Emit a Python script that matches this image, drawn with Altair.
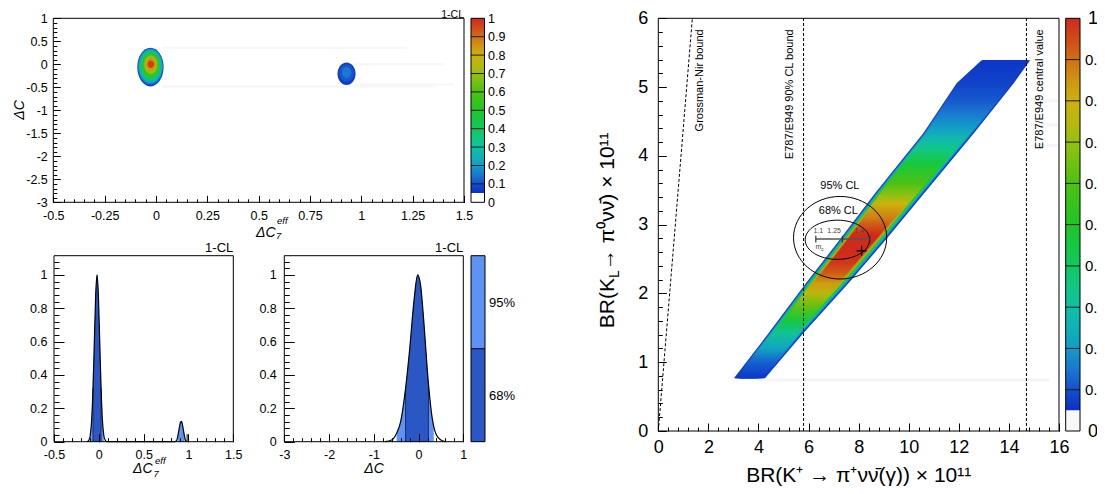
import altair as alt
import pandas as pd

FONT = "Liberation Sans"
W, H = 1089, 478

# ============================ DATA ============================
# 1-CL colour palette (value -> colour)
PAL_V = [0.05, 0.10, 0.15, 0.20, 0.25, 0.30, 0.35, 0.40, 0.45, 0.50,
         0.60, 0.70, 0.75, 0.80, 0.85, 0.90, 0.95, 1.00]
PAL_C = ["#0b2fc6", "#1450cc", "#1a78d0", "#139cc8", "#0fb2b8", "#10c0a0",
         "#10c882", "#12c860", "#15c840", "#20c525", "#4cc212", "#96c010",
         "#b8b80e", "#cdb00f", "#d09512", "#d07015", "#d04a18", "#cf2a1c"]
CB_TICKS = [0, 0.1, 0.2, 0.3, 0.4, 0.5, 0.6, 0.7, 0.8, 0.9, 1]
CB_SEPS = [0.1, 0.2, 0.3, 0.4, 0.5, 0.6, 0.7, 0.8, 0.9]

# top-left: islands in (dC7eff, dC) as nested iso-levels of 1-CL
ISL_LEVEL = [0.07, 0.15, 0.25, 0.40, 0.55, 0.70, 0.85, 0.97, 0.07, 0.11, 0.15]
ISL_CX = [-0.027, -0.027, -0.026, -0.026, -0.025, -0.025, -0.025, -0.025, 0.928, 0.928, 0.928]
ISL_CY = [-0.06, -0.05, -0.04, -0.03, -0.02, -0.01, 0.0, 0.0, -0.205, -0.19, -0.18]
ISL_AX = [0.064, 0.061, 0.057, 0.049, 0.041, 0.032, 0.024, 0.016, 0.044, 0.035, 0.022]
ISL_AY = [0.42, 0.395, 0.36, 0.31, 0.26, 0.20, 0.14, 0.08, 0.245, 0.19, 0.12]
TL_STREAK_X0 = [0.03, 0.03, 0.97, 0.97]
TL_STREAK_X1 = [1.22, 1.36, 1.40, 1.45]
TL_STREAK_Y = [0.36, -0.48, 0.0, -0.44]

# bottom-left: 1-CL profile of dC7eff
C7_X = [-0.13, -0.11, -0.095, -0.08, -0.065, -0.05, -0.035, -0.02, -0.005, 0.01,
        0.025, 0.04, 0.055, 0.07, 0.09, 0.85, 0.87, 0.88, 0.89, 0.90, 0.91, 0.92,
        0.93, 0.94, 0.95, 0.955, 0.96, 0.97, 0.98]
C7_Y = [0.0, 0.01, 0.04, 0.13, 0.32, 0.60, 0.88, 1.0, 0.88, 0.60,
        0.32, 0.13, 0.04, 0.01, 0.0, 0.0, 0.01, 0.03, 0.06, 0.09, 0.115, 0.122,
        0.11, 0.08, 0.05, 0.035, 0.02, 0.005, 0.0]
C7_68 = [(-0.065, 0.025)]
C7_95 = [(-0.095, 0.055), (0.88, 0.955)]
C7_SPIKE_X = [0.985]
C7_SPIKE_Y = [0.045]

# bottom-middle: 1-CL profile of dC
DC_X = [-0.75, -0.6, -0.49, -0.4, -0.29, -0.2, -0.1, -0.02, 0.05, 0.1, 0.22, 0.3, 0.34, 0.4, 0.5, 0.6]
DC_Y = [0.0, 0.01, 0.05, 0.12, 0.32, 0.55, 0.85, 1.0, 0.93, 0.78, 0.35, 0.15, 0.09, 0.04, 0.01, 0.0]
DC_68 = [(-0.29, 0.22)]
DC_95 = [(-0.49, 0.34)]
CL_NAMES = ["68%", "95%"]
CL_COLORS = ["#2b57c5", "#5d93f5"]

# right: allowed band in BR(K+) vs BR(KL) plane
BAND_Y = [0.766, 1.42, 2.15, 2.83, 3.45, 4.33, 5.06, 5.39]
BAND_LEFT = [3.02, 4.40, 5.90, 7.35, 8.64, 10.58, 11.92, 12.91]
BAND_RIGHT = [4.26, 5.79, 7.60, 9.20, 10.60, 12.60, 14.20, 14.85]
CORE_Y = [0.77, 1.0, 1.2, 1.42, 1.6, 1.8, 2.0, 2.15, 2.3, 2.45, 2.6, 2.85, 3.0,
          3.1, 3.3, 3.41, 3.6, 3.9, 4.09, 4.23, 4.42, 4.62, 4.81, 5.06, 5.39]
CORE_V = [0.06, 0.12, 0.22, 0.32, 0.45, 0.62, 0.76, 0.84, 0.93, 0.98, 1.0, 1.0, 0.93,
          0.88, 0.8, 0.7, 0.6, 0.45, 0.35, 0.28, 0.2, 0.15, 0.11, 0.08, 0.06]
EDGE_CAPS = [0.07, 0.16, 0.30, 0.50, 0.70, 0.88, 1.0]
R_STREAK_X0 = [3.9, 14.9, 14.9, 14.9]
R_STREAK_X1 = [15.6, 16.0, 16.0, 16.0]
R_STREAK_Y = [0.74, 4.15, 4.45, 4.8]
GN_X = [0.0, 1.36]
GN_Y = [0.0, 6.0]
E787_X = [5.8, 14.7]
LAB_T = ["Grossman-Nir bound", "E787/E949 90% CL bound", "E787/E949 central value"]
LAB_X = [1.66, 5.26, 15.25]
LAB_Y = [5.84, 5.84, 5.84]
ELL_NAME = ["95% CL", "68% CL"]
ELL_CX = [7.26, 7.15]
ELL_CY = [2.81, 2.78]
ELL_AX = [1.86, 1.285]
ELL_AY = [0.60, 0.285]
ELL_LX = [7.25, 7.19]
ELL_LY = [3.56, 3.20]
MC_Y = 2.79
MC_TICK_X = [6.29, 7.35, 8.45]
MC_LAB = ["1.1", "1.25", "1.4"]
MC_LAB_X = [6.39, 7.02, 8.02]
FIT_X = [8.12]
FIT_Y = [2.62]


# ============================ HELPERS ============================
def pal(v):
    if v < PAL_V[0]:
        return "#f8f8f8"
    if v >= PAL_V[-1]:
        return PAL_C[-1]
    for i in range(len(PAL_V) - 1):
        if PAL_V[i] <= v <= PAL_V[i + 1]:
            t = (v - PAL_V[i]) / (PAL_V[i + 1] - PAL_V[i])
            a = [int(PAL_C[i][j:j + 2], 16) for j in (1, 3, 5)]
            b = [int(PAL_C[i + 1][j:j + 2], 16) for j in (1, 3, 5)]
            return "#" + "".join(f"{round(a[k] + (b[k] - a[k]) * t):02x}" for k in range(3))


def steps(a, b, d):
    n = int(round((b - a) / d))
    return [round(a + i * d, 6) for i in range(n + 1)]


def sc(dom, rng):
    return alt.Scale(domain=list(dom), range=list(rng), nice=False, zero=False)


class P:
    # pixel box given in page coordinates; the chart itself starts 8px in
    def __init__(s, xdom, ydom, xl, xr, yb, yt):
        s.xdom, s.ydom = xdom, ydom
        s.xl, s.xr, s.yb, s.yt = xl - 8, xr - 8, yb - 8, yt - 8
        s.sx = (xr - xl) / (xdom[1] - xdom[0])
        s.sy = (yb - yt) / (ydom[1] - ydom[0])

    def x(s, f, axis=None):
        return alt.X(f"{f}:Q", scale=sc(s.xdom, [s.xl, s.xr]), axis=axis)

    def y(s, f, axis=None):
        return alt.Y(f"{f}:Q", scale=sc(s.ydom, [s.yb, s.yt]), axis=axis)


def lab_axis(orient, offset, values, fs, pad, expr="datum.value + ''"):
    return alt.Axis(orient=orient, offset=offset, values=values, labelExpr=expr,
                    ticks=False, domain=False, grid=False, title=None,
                    labelFont=FONT, labelFontSize=fs, labelColor="black",
                    labelPadding=pad, labelFlush=False, labelOverlap=False,
                    labelBound=False)


def tick_axis(orient, offset, values, size):
    return alt.Axis(orient=orient, offset=offset, values=values, labels=False,
                    ticks=True, tickSize=size, tickColor="black", tickWidth=1,
                    domain=False, grid=False, title=None, zindex=2)


def axis_layers(p, xlab, ylab, xmaj, ymaj, xmin, ymin, tlx, tly, fs, lpx, lpy):
    base = pd.DataFrame({"a": [p.xdom[0]], "b": [p.ydom[0]]})
    out = []
    out.append(alt.Chart(base).mark_point(opacity=0).encode(
        x=p.x("a", lab_axis("bottom", p.yb - H, xlab, fs, lpx)),
        y=p.y("b", lab_axis("left", -p.xl, ylab, fs, lpy))))
    out.append(alt.Chart(base).mark_point(opacity=0).encode(
        x=p.x("a", tick_axis("bottom", p.yb - tlx - H, xmaj, tlx)),
        y=p.y("b", tick_axis("left", -(p.xl + tly), ymaj, tly))))
    out.append(alt.Chart(base).mark_point(opacity=0).encode(
        x=p.x("a", tick_axis("bottom", p.yb - tlx / 2 - H, xmin, tlx / 2)),
        y=p.y("b", tick_axis("left", -(p.xl + tly / 2), ymin, tly / 2))))
    return out


def frame(p):
    df = pd.DataFrame({"x0": [p.xdom[0]], "x1": [p.xdom[1]], "y0": [p.ydom[0]], "y1": [p.ydom[1]]})
    return alt.Chart(df).mark_rect(fill="transparent", stroke="black", strokeWidth=1).encode(
        x=p.x("x0"), x2="x1", y=p.y("y0"), y2="y1")


def ellipse_shape(apx, apy):
    m = max(apx, apy)
    rx, ry = apx / m, apy / m
    path = (f"M {-rx:.4f} 0 A {rx:.4f} {ry:.4f} 0 1 0 {rx:.4f} 0 "
            f"A {rx:.4f} {ry:.4f} 0 1 0 {-rx:.4f} 0 Z")
    return path, (2 * m) ** 2


def vgrad(pairs):
    return alt.LinearGradient(gradient="linear", x1=0, y1=1, x2=0, y2=0,
                              stops=[alt.GradientStop(offset=o, color=c) for o, c in pairs])


def colorbar(p, fs, pad, white="#f8f8f8", expr="datum.value + ''"):
    out = []
    df0 = pd.DataFrame({"x0": [0], "x1": [1], "y0": [0.0], "y1": [PAL_V[0]]})
    out.append(alt.Chart(df0).mark_rect(color=white).encode(
        x=p.x("x0"), x2="x1", y=p.y("y0"), y2="y1"))
    df1 = pd.DataFrame({"x0": [0], "x1": [1], "y0": [PAL_V[0]], "y1": [1.0]})
    stops = [((v - PAL_V[0]) / (1 - PAL_V[0]), c) for v, c in zip(PAL_V, PAL_C)]
    out.append(alt.Chart(df1).mark_rect(color=vgrad(stops)).encode(
        x=p.x("x0"), x2="x1", y=p.y("y0"), y2="y1"))
    dfs = pd.DataFrame({"x0": [0] * len(CB_SEPS), "x1": [1] * len(CB_SEPS), "v": CB_SEPS})
    out.append(alt.Chart(dfs).mark_rule(color="#1a1a1a", strokeWidth=1).encode(
        x=p.x("x0"), x2="x1", y=p.y("v")))
    base = pd.DataFrame({"a": [0], "b": [0]})
    out.append(alt.Chart(base).mark_point(opacity=0).encode(
        x=p.x("a"), y=p.y("b", lab_axis("right", p.xr - W, CB_TICKS, fs, pad, expr))))
    out.append(frame(p))
    return out


def txt(t, x, y, fs, **kw):
    # x, y in page coordinates
    return alt.Chart(pd.DataFrame({"t": [t]})).mark_text(font=FONT, fontSize=fs, color="black", **kw).encode(
        x=alt.value(x - 8), y=alt.value(y - 8), text="t:N")


def profile_panel(p, xs, ys, r68, r95):
    out = []
    for regions, col in ((r95, CL_COLORS[1]), (r68, CL_COLORS[0])):
        for lo, hi in regions:
            sub = pd.DataFrame([(x, y) for x, y in zip(xs, ys) if lo - 1e-9 <= x <= hi + 1e-9], columns=["x", "y"])
            out.append(alt.Chart(sub).mark_area(color=col, opacity=1, interpolate="monotone").encode(
                x=p.x("x"), y=p.y("y"), y2=alt.datum(0)))
    bx, by = [], []
    lookup = dict(zip(xs, ys))
    for lo, hi in r68:
        for b in (lo, hi):
            bx.append(b)
            by.append(lookup[b])
    out.append(alt.Chart(pd.DataFrame({"x": bx, "y": by, "z": [0] * len(bx)})).mark_rule(
        color="#1c2d6a", strokeWidth=1).encode(x=p.x("x"), y=p.y("z"), y2="y"))
    out.append(alt.Chart(pd.DataFrame({"x": xs, "y": ys})).mark_line(
        color="black", strokeWidth=1.2, interpolate="monotone").encode(x=p.x("x"), y=p.y("y")))
    out.append(txt("1-CL", p.xr + 8, p.yt + 8 - 4, 13, align="right", baseline="alphabetic"))
    return out


layers = []

# ============================ TOP-LEFT 2D ============================
TLp = P([-0.5, 1.5], [-3, 1], 53.3, 464.0, 202.3, 18.3)
layers.append(alt.Chart(pd.DataFrame({"x0": TL_STREAK_X0, "x1": TL_STREAK_X1, "y": TL_STREAK_Y})).mark_rule(
    color="#f6f6f6", strokeWidth=2).encode(x=TLp.x("x0"), x2="x1", y=TLp.y("y")))
rows = []
for i, (v, cx, cy, ax, ay) in enumerate(zip(ISL_LEVEL, ISL_CX, ISL_CY, ISL_AX, ISL_AY)):
    path, size = ellipse_shape(ax * TLp.sx, ay * TLp.sy)
    rows.append(dict(cx=cx, cy=cy, path=path, size=size, col=pal(v), o=i))
layers.append(alt.Chart(pd.DataFrame(rows)).mark_point(filled=True, opacity=1, strokeWidth=0).encode(
    x=TLp.x("cx"), y=TLp.y("cy"), shape=alt.Shape("path:N", scale=None),
    size=alt.Size("size:Q", scale=None), color=alt.Color("col:N", scale=None), order=alt.Order("o:Q")))
layers += axis_layers(TLp, steps(-0.5, 1.5, 0.25), steps(-3, 1, 0.5), steps(-0.5, 1.5, 0.25),
                      steps(-3, 1, 0.5), steps(-0.5, 1.5, 0.05), steps(-3, 1, 0.1), 7, 7, 12.5, 7.5, 6)
layers.append(frame(TLp))
layers.append(txt("1-CL", 464.0, 17.8, 10.5, align="right", baseline="alphabetic"))
layers.append(txt("ΔC", 20, 110, 14, angle=270, align="center", baseline="middle", fontStyle="italic"))
layers.append(txt("ΔC", 256, 236.5, 14, align="left", baseline="alphabetic", fontStyle="italic"))
layers.append(txt("7", 276, 238.5, 9.5, align="left", baseline="alphabetic", fontStyle="italic"))
layers.append(txt("eff", 277, 223.5, 9.5, align="left", baseline="alphabetic", fontStyle="italic"))
layers += colorbar(P([0, 1], [0, 1], 471.0, 484.5, 202.3, 18.3), 12.5, 3, white="#ffffff")

# ============================ BOTTOM-LEFT 1D ============================
B1 = P([-0.5, 1.5], [0, 1.115], 54.0, 233.3, 441.7, 255.7)
layers += profile_panel(B1, C7_X, C7_Y, C7_68, C7_95)
layers.append(alt.Chart(pd.DataFrame({"x": C7_SPIKE_X, "y": C7_SPIKE_Y, "z": [0] * len(C7_SPIKE_X)})).mark_rule(
    color="black", strokeWidth=1).encode(x=B1.x("x"), y=B1.y("z"), y2="y"))
layers += axis_layers(B1, steps(-0.5, 1.5, 0.5), steps(0, 1, 0.2), steps(-0.5, 1.5, 0.5),
                      steps(0, 1, 0.2), steps(-0.5, 1.5, 0.1), steps(0, 1.08, 0.04), 8, 10, 12.5, 7, 7)
layers.append(frame(B1))
layers.append(txt("ΔC", 133, 473, 14, align="left", baseline="alphabetic", fontStyle="italic"))
layers.append(txt("7", 153.5, 476.5, 9.5, align="left", baseline="alphabetic", fontStyle="italic"))
layers.append(txt("eff", 155, 463.5, 9.5, align="left", baseline="alphabetic", fontStyle="italic"))

B2 = P([-3, 1], [0, 1.115], 284.3, 463.3, 441.7, 255.7)
layers += profile_panel(B2, DC_X, DC_Y, DC_68, DC_95)
layers += axis_layers(B2, steps(-3, 1, 1), steps(0, 1, 0.2), steps(-3, 1, 1),
                      steps(0, 1, 0.2), steps(-3, 1, 0.2), steps(0, 1.08, 0.04), 8, 10, 12.5, 7, 8)
layers.append(frame(B2))
layers.append(txt("ΔC", 374, 473, 14, align="center", baseline="alphabetic", fontStyle="italic"))

# CL legend bar
LG = P([0, 1], [0, 1], 471.0, 485.0, 441.7, 255.7)
layers.append(alt.Chart(pd.DataFrame({"x0": [0, 0], "x1": [1, 1], "y0": [0.0, 0.5], "y1": [0.5, 1.0],
                                      "c": CL_COLORS})).mark_rect(opacity=1).encode(
    x=LG.x("x0"), x2="x1", y=LG.y("y0"), y2="y1", color=alt.Color("c:N", scale=None)))
layers.append(alt.Chart(pd.DataFrame({"x0": [0], "x1": [1], "v": [0.5]})).mark_rule(
    color="black", strokeWidth=1).encode(x=LG.x("x0"), x2="x1", y=LG.y("v")))
layers.append(alt.Chart(pd.DataFrame({"a": [0], "b": [0]})).mark_point(opacity=0).encode(
    x=LG.x("a"), y=LG.y("b", lab_axis("right", LG.xr - W, [0.25, 0.75], 13, 3.5,
                                       expr=f"datum.value < 0.5 ? '{CL_NAMES[0]}' : '{CL_NAMES[1]}'"))))
layers.append(frame(LG))

# ============================ RIGHT 2D ============================
Rp = P([0, 16], [0, 6], 658.3, 1059.0, 431.0, 18.3)
layers.append(alt.Chart(pd.DataFrame({"x0": R_STREAK_X0, "x1": R_STREAK_X1, "y": R_STREAK_Y})).mark_rule(
    color="#f5f5f5", strokeWidth=3).encode(x=Rp.x("x0"), x2="x1", y=Rp.y("y")))
y0, y1 = BAND_Y[0], BAND_Y[-1]
for k, cap in enumerate(EDGE_CAPS):
    df = pd.DataFrame({"y": BAND_Y, "xl": [v + 0.05 * k for v in BAND_LEFT],
                       "xr": [v - 0.065 * k for v in BAND_RIGHT]})
    stops = [(max(0.0, min(1.0, (yy - y0) / (y1 - y0))), pal(min(v, cap))) for yy, v in zip(CORE_Y, CORE_V)]
    layers.append(alt.Chart(df).mark_area(orient="horizontal", color=vgrad(stops), opacity=1).encode(
        y=Rp.y("y"), x=Rp.x("xl"), x2="xr"))
# dashed bounds
layers.append(alt.Chart(pd.DataFrame({"x0": [GN_X[0]], "x1": [GN_X[1]], "y0": [GN_Y[0]], "y1": [GN_Y[1]]})).mark_rule(
    color="black", strokeWidth=1, strokeDash=[3, 2]).encode(x=Rp.x("x0"), x2="x1", y=Rp.y("y0"), y2="y1"))
layers.append(alt.Chart(pd.DataFrame({"x": E787_X, "y0": [0, 0], "y1": [6, 6]})).mark_rule(
    color="black", strokeWidth=1, strokeDash=[3, 2]).encode(x=Rp.x("x"), y=Rp.y("y0"), y2="y1"))
layers.append(alt.Chart(pd.DataFrame({"x": LAB_X, "y": LAB_Y, "t": LAB_T})).mark_text(
    font=FONT, fontSize=11, angle=270, align="right", baseline="middle", color="black").encode(
    x=Rp.x("x"), y=Rp.y("y"), text="t:N"))
# CL ellipses
rows = []
for cx, cy, ax, ay in zip(ELL_CX, ELL_CY, ELL_AX, ELL_AY):
    path, size = ellipse_shape(ax * Rp.sx, ay * Rp.sy)
    rows.append(dict(cx=cx, cy=cy, path=path, size=size))
layers.append(alt.Chart(pd.DataFrame(rows)).mark_point(filled=False, color="black", strokeWidth=1, opacity=1).encode(
    x=Rp.x("cx"), y=Rp.y("cy"), shape=alt.Shape("path:N", scale=None), size=alt.Size("size:Q", scale=None)))
layers.append(alt.Chart(pd.DataFrame({"x": ELL_LX, "y": ELL_LY, "t": ELL_NAME})).mark_text(
    font=FONT, fontSize=11, align="center", baseline="middle", color="black").encode(
    x=Rp.x("x"), y=Rp.y("y"), text="t:N"))
# m_c scale
layers.append(alt.Chart(pd.DataFrame({"x0": [MC_TICK_X[0]], "x1": [MC_TICK_X[-1]], "y": [MC_Y]})).mark_rule(
    color="#555555", strokeWidth=1.5).encode(x=Rp.x("x0"), x2="x1", y=Rp.y("y")))
layers.append(alt.Chart(pd.DataFrame({"x": MC_TICK_X, "y0": [MC_Y - 0.05] * 3, "y1": [MC_Y + 0.05] * 3})).mark_rule(
    color="#333333", strokeWidth=1.2).encode(x=Rp.x("x"), y=Rp.y("y0"), y2="y1"))
layers.append(alt.Chart(pd.DataFrame({"x": MC_LAB_X, "y": [MC_Y + 0.12] * 3, "t": MC_LAB})).mark_text(
    font=FONT, fontSize=7, align="center", baseline="middle", color="#444444").encode(
    x=Rp.x("x"), y=Rp.y("y"), text="t:N"))
layers.append(alt.Chart(pd.DataFrame({"x": [MC_TICK_X[0] + 0.1], "y": [MC_Y - 0.12], "t": ["m"]})).mark_text(
    font=FONT, fontSize=7, align="center", baseline="middle", color="#444444").encode(
    x=Rp.x("x"), y=Rp.y("y"), text="t:N"))
layers.append(alt.Chart(pd.DataFrame({"x": [MC_TICK_X[0] + 0.1], "y": [MC_Y - 0.12], "t": ["c"]})).mark_text(
    font=FONT, fontSize=5, align="left", baseline="middle", color="#444444", dx=3, dy=2).encode(
    x=Rp.x("x"), y=Rp.y("y"), text="t:N"))
layers.append(alt.Chart(pd.DataFrame({"x": FIT_X, "y": FIT_Y})).mark_point(
    shape="M -1 0 L 1 0 M 0 -1 L 0 1", size=100, filled=False, color="black", strokeWidth=1.2, opacity=1).encode(
    x=Rp.x("x"), y=Rp.y("y")))
layers += axis_layers(Rp, steps(0, 16, 2), steps(0, 6, 1), steps(0, 16, 2), steps(0, 6, 1),
                      steps(0, 16, 0.4), steps(0, 6, 0.2), 8, 8, 18, 7.5, 10.5)
layers.append(frame(Rp))
layers.append(txt("BR(K⁺ → π⁺νν̄(γ)) × 10¹¹", 858.7, 481.5, 21, align="center", baseline="alphabetic"))
layers.append(txt("BR(K", 614, 278, 21, angle=270, align="right", baseline="alphabetic"))
layers.append(txt("L", 614, 278, 14, angle=270, align="left", baseline="alphabetic", dy=5))
layers.append(txt(" → π⁰νν̄) × 10¹¹", 614, 278, 21, angle=270, align="left", baseline="alphabetic", dx=8))
# right colour bar: the picture ends just after it, so only "0." of the middle labels is visible
RCB = P([0, 1], [0, 1], 1065.7, 1080.0, 431.0, 18.3)
layers += colorbar(RCB, 18, 7.5, expr="datum.value == 1 ? '1' : (datum.value == 0 ? '0' : '')")
layers.append(alt.Chart(pd.DataFrame({"a": [0], "b": [0]})).mark_point(opacity=0).encode(
    x=RCB.x("a"), y=RCB.y("b", lab_axis("right", RCB.xr - W, CB_TICKS[1:-1], 15, 4.5, "'0.'"))))

chart = alt.layer(*layers).resolve_scale(
    x="independent", y="independent"
).resolve_axis(
    x="independent", y="independent"
).properties(
    width=W, height=H, autosize=alt.AutoSizeParams(type="none"), padding=0, background="white"
).configure_view(strokeWidth=0)

chart.save("out.html", embed_options={"renderer": "svg", "actions": False})
